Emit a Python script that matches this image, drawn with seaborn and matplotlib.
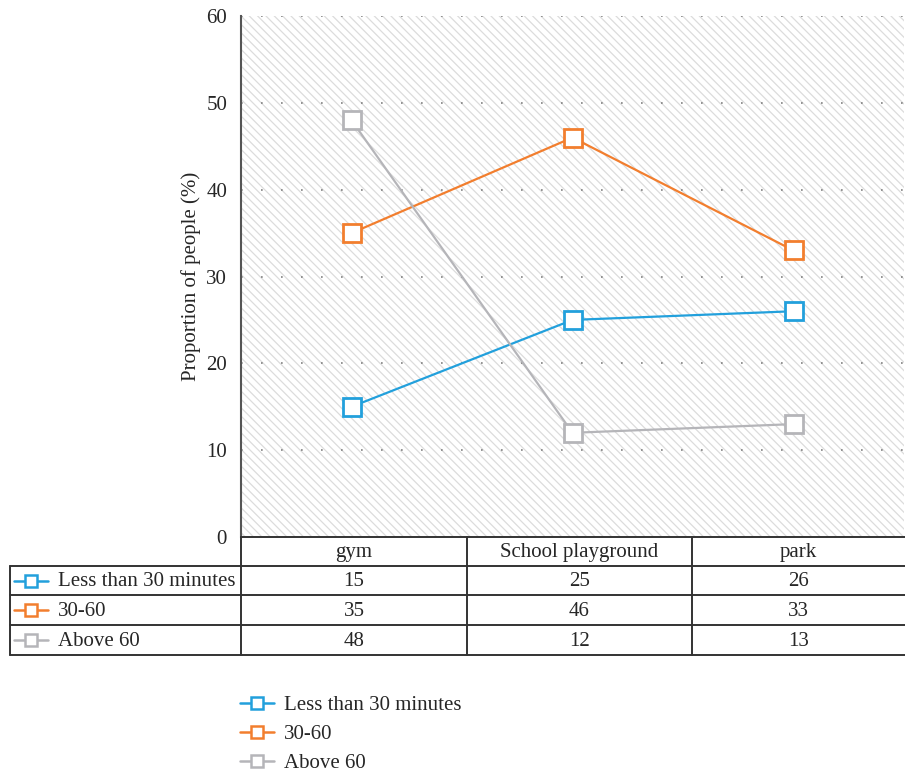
import matplotlib
matplotlib.use("Agg")
import matplotlib.pyplot as plt
import seaborn as sns
import pandas as pd
from matplotlib.patches import Rectangle
from matplotlib.lines import Line2D

# dados do grafico
locais = ["gym", "School playground", "park"]
series = ["Less than 30 minutes", "30-60", "Above 60"]
menos_30 = [15, 25, 26]
entre_30_60 = [35, 46, 33]
acima_60 = [48, 12, 13]
valores = [menos_30, entre_30_60, acima_60]
cores = ["#22A0DC", "#F27E2E", "#B5B5B9"]
yticks = [0, 10, 20, 30, 40, 50, 60]

sns.set_style("white")
plt.rcParams["font.family"] = ["Liberation Serif", "DejaVu Serif"]
plt.rcParams["hatch.color"] = "#DCDCDC"
plt.rcParams["hatch.linewidth"] = 0.9

W, H = 905, 773
fs = 15
fig = plt.figure(figsize=(W / 100, H / 100), dpi=100)
ax = fig.add_axes([241 / W, 1 - 537 / H, (904 - 241) / W, (537 - 16) / H])

# fundo hachurado
ax.add_patch(Rectangle((0, 0), 1, 1, transform=ax.transAxes, facecolor="white",
                       edgecolor="#DCDCDC", linewidth=0, hatch="\\\\\\\\", zorder=0))

for y in yticks[1:]:
    ax.axhline(y, color="#808080", linestyle=(0, (1, 11)), linewidth=1.2, zorder=1)

df = pd.DataFrame({"local": locais * 3,
                   "serie": [s for s in series for _ in locais],
                   "valor": menos_30 + entre_30_60 + acima_60})
df["x"] = df["local"].map({l: i for i, l in enumerate(locais)})

for s, c in zip(series, cores):
    sns.lineplot(data=df[df["serie"] == s], x="x", y="valor", color=c, ax=ax,
                 marker="s", markersize=13, markerfacecolor="white",
                 markeredgecolor=c, markeredgewidth=2, linewidth=1.6, zorder=3)

ax.set_xlim(-0.5, 2.5)
ax.set_ylim(0, 60)
ax.set_yticks(yticks)
ax.set_yticklabels([str(t) for t in yticks], fontsize=fs)
ax.set_xticks([])
ax.set_xlabel("")
ax.set_ylabel("Proportion of people (%)", fontsize=fs, labelpad=4)
ax.tick_params(axis="y", length=0, pad=10)
for lado in ["top", "right", "bottom"]:
    ax.spines[lado].set_visible(False)
ax.spines["left"].set_color("#555555")
ax.spines["left"].set_linewidth(1.5)

# tabela de dados
tax = fig.add_axes([0, 1 - 656 / H, 1, (656 - 536) / H])
tax.set_xlim(0, W)
tax.set_ylim(656, 536)
tax.axis("off")
lc = "#333333"
lw = 1.4
colx = [241, 467, 692, 905]
rowy = [537, 566, 595, 625, 655]
tax.plot([241, 905], [537, 537], color=lc, lw=lw)
for y in rowy[1:]:
    tax.plot([10, 905], [y, y], color=lc, lw=lw)
tax.plot([10, 10], [566, 655], color=lc, lw=lw)
for x in colx[:-1]:
    tax.plot([x, x], [537, 655], color=lc, lw=lw)

for j, l in enumerate(locais):
    tax.text((colx[j] + colx[j + 1]) / 2, (rowy[0] + rowy[1]) / 2 + 1, l,
             ha="center", va="center", fontsize=fs)
for i, (s, c, vals) in enumerate(zip(series, cores, valores)):
    yc = (rowy[i + 1] + rowy[i + 2]) / 2
    tax.plot([14, 48], [yc, yc], color=c, lw=1.8)
    tax.plot([31], [yc], marker="s", markersize=8.5, markerfacecolor="white",
             markeredgecolor=c, markeredgewidth=1.8)
    tax.text(58, yc + 1, s, ha="left", va="center", fontsize=fs)
    for j, v in enumerate(vals):
        tax.text((colx[j] + colx[j + 1]) / 2, yc + 1, str(v),
                 ha="center", va="center", fontsize=fs)

# legenda inferior
handles = [Line2D([0], [0], color=c, lw=1.8, marker="s", markersize=8.5,
                  markerfacecolor="white", markeredgecolor=c, markeredgewidth=1.8)
           for c in cores]
fig.legend(handles, series, loc="upper left", bbox_to_anchor=(232 / W, 1 - 687 / H),
           frameon=False, fontsize=fs, handlelength=1.6, handletextpad=0.5,
           labelspacing=0.45, borderaxespad=0)

fig.savefig("out.png", dpi=100)
